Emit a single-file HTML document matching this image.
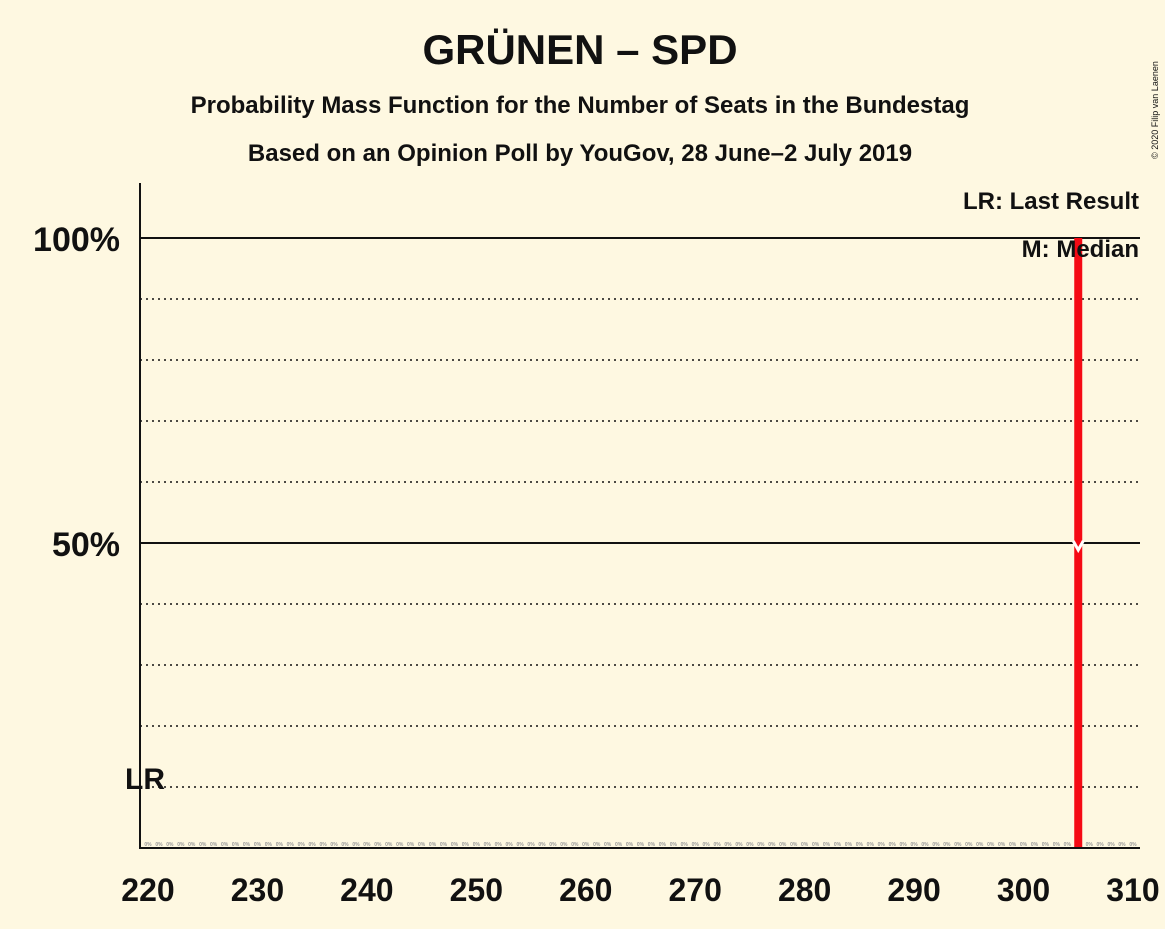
<!DOCTYPE html>
<html><head><meta charset="utf-8"><style>
body{margin:0;background:#fef8e1;}
svg text{font-family:"Liberation Sans",sans-serif;font-weight:bold;fill:#111;}
</style></head><body>
<svg width="1165" height="924" xmlns="http://www.w3.org/2000/svg">
<rect width="1165" height="924" fill="#fef8e1"/>
<text x="580" y="64" font-size="42" text-anchor="middle">GRÜNEN – SPD</text>
<text x="580" y="113" font-size="24" text-anchor="middle">Probability Mass Function for the Number of Seats in the Bundestag</text>
<text x="580" y="161" font-size="24" text-anchor="middle">Based on an Opinion Poll by YouGov, 28 June–2 July 2019</text>
<text x="1158" y="110" font-size="9" font-weight="normal" transform="rotate(-90 1158 110)" text-anchor="middle" style="font-weight:normal">© 2020 Filip van Laenen</text>
<g id="grid"></g>
<g id="bars"></g>
<line x1="140" y1="183" x2="140" y2="849" stroke="#111" stroke-width="2"/>
<line x1="139" y1="848" x2="1140" y2="848" stroke="#111" stroke-width="2"/>
<text x="120" y="251" font-size="34" text-anchor="end">100%</text>
<text x="120" y="556" font-size="34" text-anchor="end">50%</text>
<text x="145" y="789" font-size="30" text-anchor="middle">LR</text>
<text x="1139" y="209" font-size="24" text-anchor="end">LR: Last Result</text>
<text x="1139" y="257" font-size="24" text-anchor="end">M: Median</text>
<g id="xt"></g>
</svg>
<script>
const seats=[];for(let s=220;s<=310;s++)seats.push(s);
const probs=seats.map(s=>s===305?100:0);
const xTicks=[220,230,240,250,260,270,280,290,300,310];
const medianSeat=305;
const X=s=>148+(s-220)*10.944;
const Y=p=>848-p*6.1;
const ns="http://www.w3.org/2000/svg";
const g=document.getElementById('grid');
for(let p=10;p<=100;p+=10){
 const l=document.createElementNS(ns,'line');
 l.setAttribute('x1',140);l.setAttribute('x2',1140);l.setAttribute('y1',Y(p));l.setAttribute('y2',Y(p));
 l.setAttribute('stroke','#111');
 if(p%50===0){l.setAttribute('stroke-width',2);}else{l.setAttribute('stroke-width',1.5);l.setAttribute('stroke-dasharray','2,4');}
 
 
 g.appendChild(l);
}
const b=document.getElementById('bars');
seats.forEach((s,i)=>{
 if(probs[i]>0){
  const r=document.createElementNS(ns,'rect');
  r.setAttribute('x',X(s)-4);r.setAttribute('y',Y(probs[i]));r.setAttribute('width',8);r.setAttribute('height',848-Y(probs[i]));
  r.setAttribute('fill','#f50a14');
  
  
  b.appendChild(r);
 } else {
  const t=document.createElementNS(ns,'text');
  t.setAttribute('x',X(s));t.setAttribute('y',846);t.setAttribute('font-size',5);t.setAttribute('text-anchor','middle');
  t.setAttribute('style','fill:#999');t.textContent='0%';
  
  
  b.appendChild(t);
 }
});
const m=document.createElementNS(ns,'path');
const mx=X(medianSeat);
m.setAttribute('d',`M${mx-5} ${Y(50)-2} L${mx} ${Y(50)+7} L${mx+5} ${Y(50)-2}`);
m.setAttribute('stroke','#fff');m.setAttribute('stroke-width',3);m.setAttribute('fill','none');


b.appendChild(m);
const xt=document.getElementById('xt');
xTicks.forEach(v=>{
 const t=document.createElementNS(ns,'text');
 t.setAttribute('x',X(v));t.setAttribute('y',901);t.setAttribute('font-size',32);t.setAttribute('text-anchor','middle');
 t.textContent=v;
 
 
 xt.appendChild(t);
});
</script>
</body></html>
